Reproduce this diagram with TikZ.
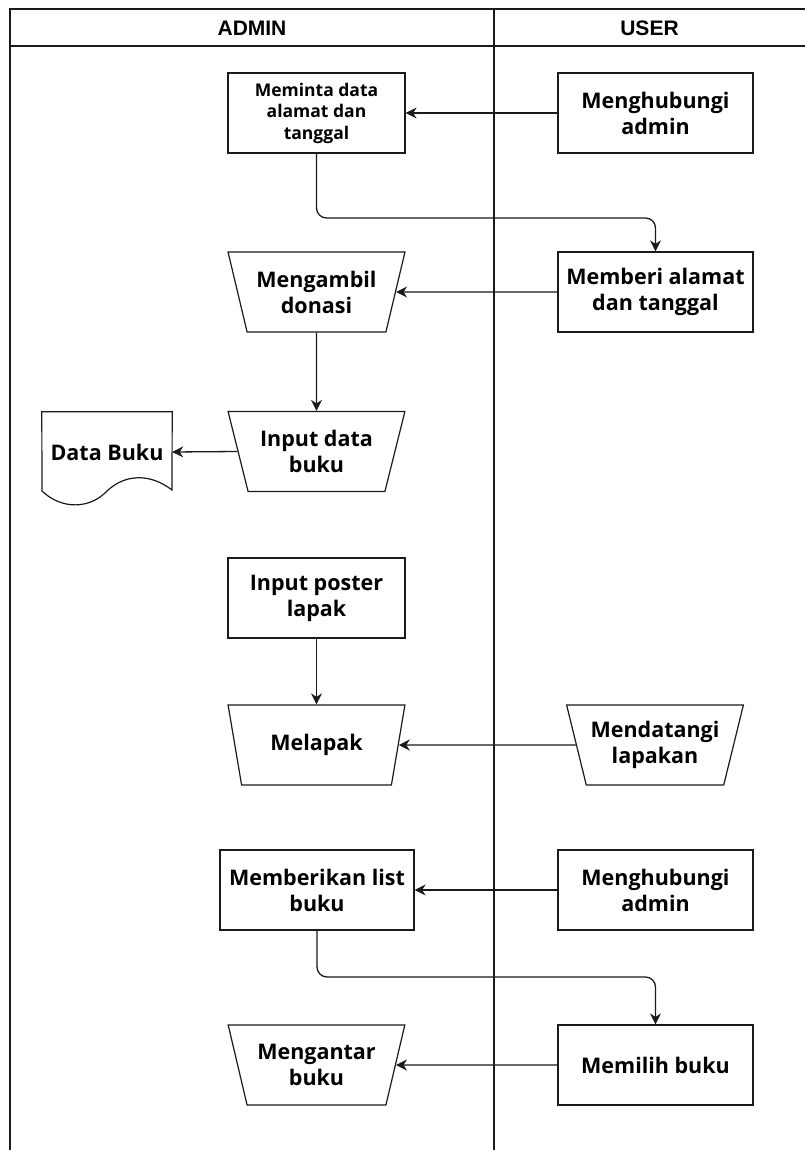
\documentclass[tikz,border=0pt]{standalone}
\usepackage{fontspec}
\setmainfont{Open Sans}
\newfontfamily\headfont{Liberation Sans}
\usetikzlibrary{arrows.meta,calc,positioning,shapes.geometric}
\definecolor{Ink}{HTML}{1A1A1A}

\begin{document}
\begin{tikzpicture}[x=1pt,y=-1pt,
    lane/.style={draw=Ink,line width=1.6pt},
    procbox/.style={draw=Ink,line width=1.2pt,minimum width=195pt,minimum height=80pt,
      align=center,inner sep=1pt,font=\bfseries\fontsize{21.5}{26}\selectfont},
    manualbox/.style={trapezium,trapezium angle=68.8,shape border rotate=180,
      trapezium stretches=true,draw=Ink,line width=1.2pt,minimum width=177pt,
      minimum height=80pt,align=center,inner sep=0pt,font=\bfseries\fontsize{21.5}{26}\selectfont},
    flow/.style={draw=Ink,line width=1.3pt,-{Stealth[length=11pt,width=11pt,inset=3.5pt]}}]
  \useasboundingbox (0,0) rectangle (805,1150);
  % lanes
  \draw[lane] (10,1150) -- (10,9) -- (805,9);
  \draw[lane] (10,46) -- (805,46);
  \draw[lane] (494,9) -- (494,1150);
  \node[font=\headfont\bfseries\fontsize{21}{24}\selectfont] (adminhead) at (252,28) {ADMIN};
  \node[font=\headfont\bfseries\fontsize{21}{24}\selectfont] (userhead) at (649.5,28) {USER};

  % admin side
  \node[procbox,minimum width=177pt,font=\bfseries\fontsize{17.5}{21.5}\selectfont] (minta) at (316.5,113) {Meminta data\\alamat dan\\tanggal};
  \node[manualbox] (ambil) at (316.5,292) {Mengambil\\donasi};
  \node[manualbox] (inputdata) at (316.5,451.5) {Input data\\buku};
  \node[minimum width=130pt,minimum height=80pt,inner sep=0pt,
    font=\bfseries\fontsize{21.5}{26}\selectfont] (databuku) at (107,452) {Data Buku};
  \node[procbox,minimum width=177pt] (poster) at (316.5,598) {Input poster\\lapak};
  \node[manualbox] (melapak) at (316.5,745) {Melapak};
  \node[procbox,minimum width=194pt] (listbuku) at (317,890) {Memberikan list\\buku};
  \node[manualbox] (antar) at (316.5,1065) {Mengantar\\buku};

  % user side
  \node[procbox] (hubungiA) at (655.5,113) {Menghubungi\\admin};
  \node[procbox] (beri) at (655.5,292) {Memberi alamat\\dan tanggal};
  \node[manualbox] (datangi) at (655,745) {Mendatangi\\lapakan};
  \node[procbox] (hubungiB) at (655.5,890) {Menghubungi\\admin};
  \node[procbox] (pilih) at (655.5,1065) {Memilih buku};

  % document outline
  \draw[draw=Ink,line width=1.2pt] (databuku.north west) -- (databuku.north east) -- (172,490)
    .. controls (150,473) and (125,474) .. (107,491)
    .. controls (90,509) and (62,510) .. (42,491) -- cycle;

  \coordinate (bendA) at (316.5,218);
  \coordinate (bendB) at (317,977);

  \draw[flow] (hubungiA) -- (minta);
  \draw[flow,rounded corners=10pt] (minta.south) -- (bendA) -| (beri.north);
  \draw[flow] (beri) -- (ambil.east);
  \draw[flow] (ambil) -- (inputdata);
  \draw[flow] (inputdata.west) -- (databuku.east);
  \draw[flow] (poster) -- (melapak);
  \draw[flow] (datangi.west) -- (melapak.east);
  \draw[flow] (hubungiB) -- (listbuku);
  \draw[flow,rounded corners=10pt] (listbuku.south) -- (bendB) -| (pilih.north);
  \draw[flow] (pilih) -- (antar.east);
\end{tikzpicture}
\end{document}
